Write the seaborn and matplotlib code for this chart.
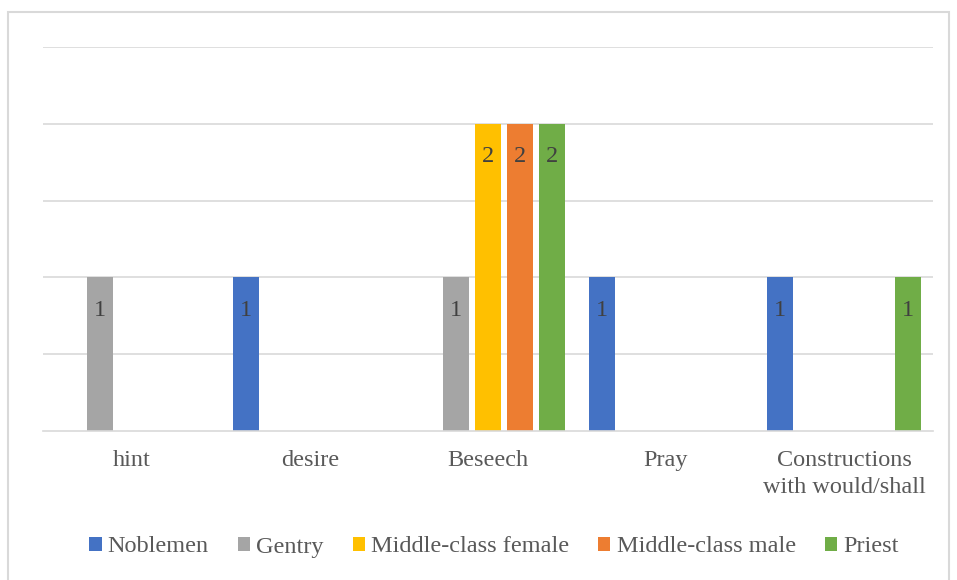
import seaborn as sns
import pandas as pd
import matplotlib.pyplot as plt
from matplotlib.patches import Rectangle

categories = ["hint", "desire", "Beseech", "Pray", "Constructions\nwith would/shall"]
series = ["Noblemen", "Gentry", "Middle-class female", "Middle-class male", "Priest"]
noblemen = [0, 1, 0, 1, 1]
gentry = [1, 0, 1, 0, 0]
mc_female = [0, 0, 2, 0, 0]
mc_male = [0, 0, 2, 0, 0]
priest = [0, 0, 2, 0, 1]
colors = ["#4472C4", "#A5A5A5", "#FFC000", "#ED7D31", "#70AD47"]

rows = []
for name, vals in zip(series, [noblemen, gentry, mc_female, mc_male, priest]):
    for cat, v in zip(categories, vals):
        rows.append({"category": cat, "series": name, "value": v})
df = pd.DataFrame(rows)

sns.set_style("white")
plt.rcParams["font.family"] = ["Liberation Serif", "DejaVu Serif"]

fig = plt.figure(figsize=(9.57, 5.8), dpi=100)
ax = fig.add_axes([43 / 957, 1 - 431 / 580, 890 / 957, 384 / 580])

sns.barplot(data=df, x="category", y="value", hue="series", order=categories,
            hue_order=series, palette=colors, width=0.9, gap=0.19,
            linewidth=0, saturation=1, ax=ax, legend=True)

ax.set_ylim(0, 2.5)
ax.set_yticks([0.5, 1, 1.5, 2, 2.5])
ax.set_yticklabels([])
ax.yaxis.grid(True, color="#d9d9d9", linewidth=1.2)
ax.set_axisbelow(True)
for s in ["left", "right", "top"]:
    ax.spines[s].set_visible(False)
ax.spines["bottom"].set_color("#d9d9d9")
ax.spines["bottom"].set_linewidth(1.2)
ax.tick_params(axis="both", length=0)
ax.tick_params(axis="x", labelsize=17.5, labelcolor="#595959", pad=14)
for t in ax.get_xticklabels():
    t.set_linespacing(1.35)
ax.set_xlabel("")
ax.set_ylabel("")

for cont in ax.containers:
    for p in cont:
        h = p.get_height()
        if h > 0:
            ax.annotate(f"{h:g}", (p.get_x() + p.get_width() / 2, h),
                        xytext=(0, -33), textcoords="offset pixels",
                        ha="center", va="center", fontsize=17.5, color="#404040")

handles, labels = ax.get_legend_handles_labels()
ax.legend_.remove()
fig.legend(handles, labels, loc="center", bbox_to_anchor=(494 / 957, 1 - 547 / 580),
           ncol=5, frameon=False, fontsize=17.5, handlelength=0.5, handleheight=0.5,
           handletextpad=0.25, columnspacing=1.2, labelcolor="#595959")

fig.patches.append(Rectangle((8 / 957, -0.05), 941 / 957, 1.05 - 12 / 580,
                             transform=fig.transFigure, fill=False,
                             edgecolor="#d9d9d9", linewidth=1.5))

fig.savefig("out.png", dpi=100)
